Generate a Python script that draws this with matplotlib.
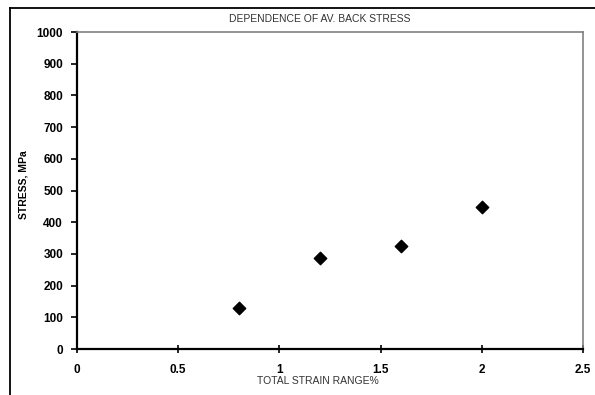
import matplotlib
matplotlib.use("Agg")
import matplotlib.pyplot as plt
from matplotlib.lines import Line2D

strain_range = [0.8, 1.2, 1.6, 2.0]
back_stress = [130, 286, 326, 447]

x_ticks = [0, 0.5, 1, 1.5, 2, 2.5]
x_tick_labels = ["0", "0.5", "1", "1.5", "2", "2.5"]
y_ticks = list(range(0, 1001, 100))

plt.rcParams["font.family"] = ["Liberation Sans", "DejaVu Sans"]

W, H = 595, 395
fig = plt.figure(figsize=(W / 100, H / 100), dpi=100)
fig.patch.set_facecolor("white")

# outer frame (left and top edges)
fig.add_artist(Line2D([9.5 / W, 9.5 / W], [0, 1 - 8 / H], color="black", lw=1.3,
                      transform=fig.transFigure))
fig.add_artist(Line2D([9.5 / W, 1], [1 - 8 / H, 1 - 8 / H], color="black", lw=1.3,
                      transform=fig.transFigure))

left, right, top, bottom = 77, 583, 32, 349
ax = fig.add_axes([left / W, 1 - bottom / H, (right - left) / W, (bottom - top) / H])

ax.scatter(strain_range, back_stress, marker="D", s=40, color="black", zorder=3,
           linewidths=1.0, edgecolors="black")

ax.set_xlim(0, 2.5)
ax.set_ylim(0, 1000)
ax.set_xticks(x_ticks)
ax.set_xticklabels(x_tick_labels)
ax.set_yticks(y_ticks)

for s in ("left", "bottom"):
    ax.spines[s].set_color("black")
    ax.spines[s].set_linewidth(1.6)
for s in ("top", "right"):
    ax.spines[s].set_color("#808080")
    ax.spines[s].set_linewidth(1.2)

ax.tick_params(axis="y", direction="out", length=4, width=1.2, pad=6,
               labelsize=8.5, colors="black")
ax.tick_params(axis="x", direction="inout", length=6, width=1.2, pad=8,
               labelsize=8.5, colors="black")
for lbl in ax.get_xticklabels() + ax.get_yticklabels():
    lbl.set_fontweight("bold")

fig.text(320 / W, 1 - 19 / H, "DEPENDENCE OF AV. BACK STRESS", ha="center",
         va="center", fontsize=7.5, color="#333333")
fig.text(318 / W, 1 - 381 / H, "TOTAL STRAIN RANGE%", ha="center", va="center",
         fontsize=7.5, color="#333333")
fig.text(23 / W, 1 - 185 / H, "STRESS, MPa", ha="center", va="center",
         rotation=90, fontsize=7.5, fontweight="bold", color="black")

fig.savefig("out.png", dpi=100, facecolor="white")
